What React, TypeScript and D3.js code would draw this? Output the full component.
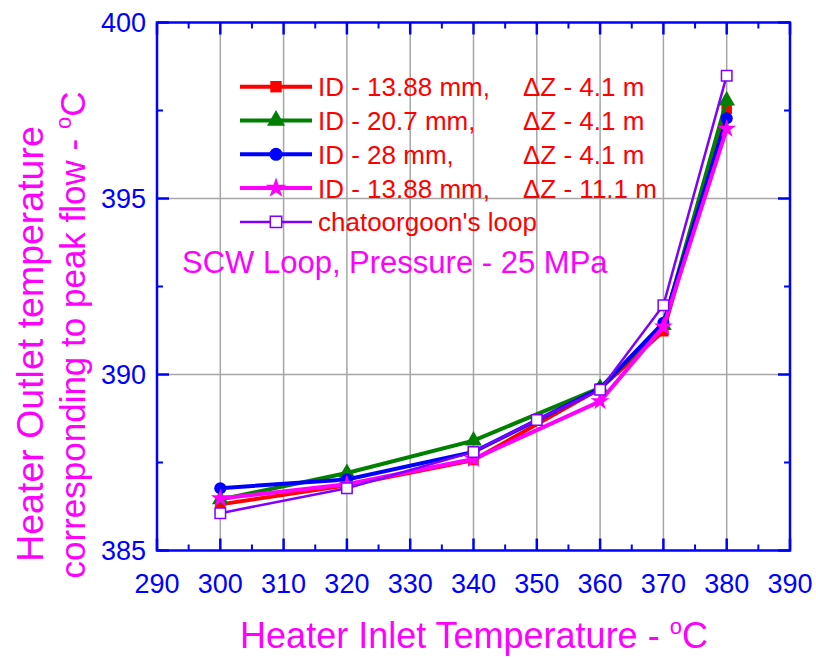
import * as d3 from 'd3';

const inletTemps = [300, 320, 340, 360, 370, 380];
const chatInletTemps = [300, 320, 340, 350, 360, 370, 380];

const id1388 = [386.31, 386.85, 387.57, 389.6, 391.23, 397.55];
const id207 = [386.45, 387.2, 388.12, 389.62, 391.4, 397.78];
const id28 = [386.77, 387.02, 387.8, 389.6, 391.47, 397.28];
const id1388dz = [386.48, 386.88, 387.6, 389.24, 391.36, 396.98];
const chatoorgoon = [386.06, 386.77, 387.8, 388.71, 389.57, 391.97, 398.49];

const xTicks = [290, 300, 310, 320, 330, 340, 350, 360, 370, 380, 390];
const yTicks = [385, 390, 395, 400];

const seriesNames = ['ID - 13.88 mm,', 'ID - 20.7 mm,', 'ID - 28 mm,', 'ID - 13.88 mm,', "chatoorgoon's loop"];
const seriesDz = ['\u0394Z - 4.1 m', '\u0394Z - 4.1 m', '\u0394Z - 4.1 m', '\u0394Z - 11.1 m', ''];

const W = 816, H = 659;
const left = 157, right = 790, top = 22.5, bottom = 550.5;
const font = "'Liberation Sans', Arial, sans-serif";

const series = [
  { xs: inletTemps, ys: id1388, color: '#ff0000', sym: d3.symbolSquare, size: 110, width: 4, hollow: false },
  { xs: inletTemps, ys: id207, color: '#008000', sym: d3.symbolTriangle, size: 120, width: 4, hollow: false },
  { xs: inletTemps, ys: id28, color: '#0000ff', sym: d3.symbolCircle, size: 115, width: 4, hollow: false },
  { xs: inletTemps, ys: id1388dz, color: '#ff00ff', sym: d3.symbolStar, size: 110, width: 4, hollow: false },
  { xs: chatInletTemps, ys: chatoorgoon, color: '#8000ff', sym: d3.symbolSquare, size: 110, width: 2.5, hollow: true },
];

export default function App() {
  const x = d3.scaleLinear().domain([290, 390]).range([left, right]);
  const y = d3.scaleLinear().domain([385, 400]).range([bottom, top]);
  const xMinor = d3.range(295, 390, 10);
  const yMinor = d3.range(387.5, 400, 5);
  const gridX = d3.range(300, 390, 10);
  const gridY = [390, 395];
  const line = d3.line<[number, number]>().x(d => x(d[0])).y(d => y(d[1]));
  const axisColor = '#0000ff';

  return (
    <svg width={W} height={H} style={{ position: 'absolute', left: 0, top: 0, background: '#fff' }} fontFamily={font}>
      {gridX.map(v => (
        <line key={'gx' + v} x1={x(v)} x2={x(v)} y1={top} y2={bottom} stroke="#a6a6a6" strokeWidth={1.5} />
      ))}
      {gridY.map(v => (
        <line key={'gy' + v} x1={left} x2={right} y1={y(v)} y2={y(v)} stroke="#a6a6a6" strokeWidth={1.5} />
      ))}

      {series.map((s, i) => (
        <g key={'s' + i}>
          <path d={line(s.xs.map((v, j) => [v, s.ys[j]]) as [number, number][]) || ''} fill="none" stroke={s.color} strokeWidth={s.width} />
          {s.xs.map((v, j) => (
            <path key={j} transform={`translate(${x(v)},${y(s.ys[j])})`} d={d3.symbol(s.sym, s.size)() || ''}
              fill={s.hollow ? '#fff' : s.color} stroke={s.hollow ? s.color : 'none'} strokeWidth={s.hollow ? 1.5 : 0} />
          ))}
        </g>
      ))}

      {/* frame and ticks */}
      <rect x={left} y={top} width={right - left} height={bottom - top} fill="none" stroke={axisColor} strokeWidth={2.5} />
      {xTicks.map(v => (
        <g key={'xt' + v}>
          <line x1={x(v)} x2={x(v)} y1={bottom} y2={bottom - 12} stroke={axisColor} strokeWidth={2.5} />
          <line x1={x(v)} x2={x(v)} y1={top} y2={top + 12} stroke={axisColor} strokeWidth={2.5} />
          <text x={x(v)} y={593} textAnchor="middle" fontSize={27} fill={axisColor}>{v}</text>
        </g>
      ))}
      {xMinor.map(v => (
        <g key={'xm' + v}>
          <line x1={x(v)} x2={x(v)} y1={bottom} y2={bottom - 6} stroke={axisColor} strokeWidth={2} />
          <line x1={x(v)} x2={x(v)} y1={top} y2={top + 6} stroke={axisColor} strokeWidth={2} />
        </g>
      ))}
      {yTicks.map(v => (
        <g key={'yt' + v}>
          <line x1={left} x2={left + 12} y1={y(v)} y2={y(v)} stroke={axisColor} strokeWidth={2.5} />
          <line x1={right} x2={right - 12} y1={y(v)} y2={y(v)} stroke={axisColor} strokeWidth={2.5} />
          <text x={146} y={y(v) + 9.5} textAnchor="end" fontSize={27} fill={axisColor}>{v}</text>
        </g>
      ))}
      {yMinor.map(v => (
        <g key={'ym' + v}>
          <line x1={left} x2={left + 6} y1={y(v)} y2={y(v)} stroke={axisColor} strokeWidth={2} />
          <line x1={right} x2={right - 6} y1={y(v)} y2={y(v)} stroke={axisColor} strokeWidth={2} />
        </g>
      ))}

      {/* legend */}
      {series.map((s, i) => {
        const cy = 86.7 + i * 33.8;
        return (
          <g key={'lg' + i}>
            <line x1={240} x2={312} y1={cy} y2={cy} stroke={s.color} strokeWidth={s.width} />
            <path transform={`translate(276,${cy})`} d={d3.symbol(s.sym, s.size + 20)() || ''}
              fill={s.hollow ? '#fff' : s.color} stroke={s.hollow ? s.color : 'none'} strokeWidth={s.hollow ? 1.5 : 0} />
            <text x={318} y={cy + 9.5} fontSize={26} fill="#ff0000">{seriesNames[i]}</text>
            {seriesDz[i] && <text x={523} y={cy + 9.5} fontSize={26} fill="#ff0000">{seriesDz[i]}</text>}
          </g>
        );
      })}

      <text x={182} y={273} fontSize={31} fill="#ff00ff">SCW Loop, Pressure - 25 MPa</text>

      {/* axis titles */}
      <text x={474} y={648} textAnchor="middle" fontSize={36} fill="#ff00ff">
        Heater Inlet Temperature - <tspan fontSize={22} dy={-14}>o</tspan><tspan dy={14}>C</tspan>
      </text>
      <g transform="translate(43,344) rotate(-90)">
        <text x={0} y={0} textAnchor="middle" fontSize={37.5} fill="#ff00ff">Heater Outlet temperature</text>
      </g>
      <g transform="translate(85,335) rotate(-90)">
        <text x={0} y={0} textAnchor="middle" fontSize={35} fill="#ff00ff">
          corresponding to peak flow - <tspan fontSize={22} dy={-14}>o</tspan><tspan dy={14}>C</tspan>
        </text>
      </g>
    </svg>
  );
}
